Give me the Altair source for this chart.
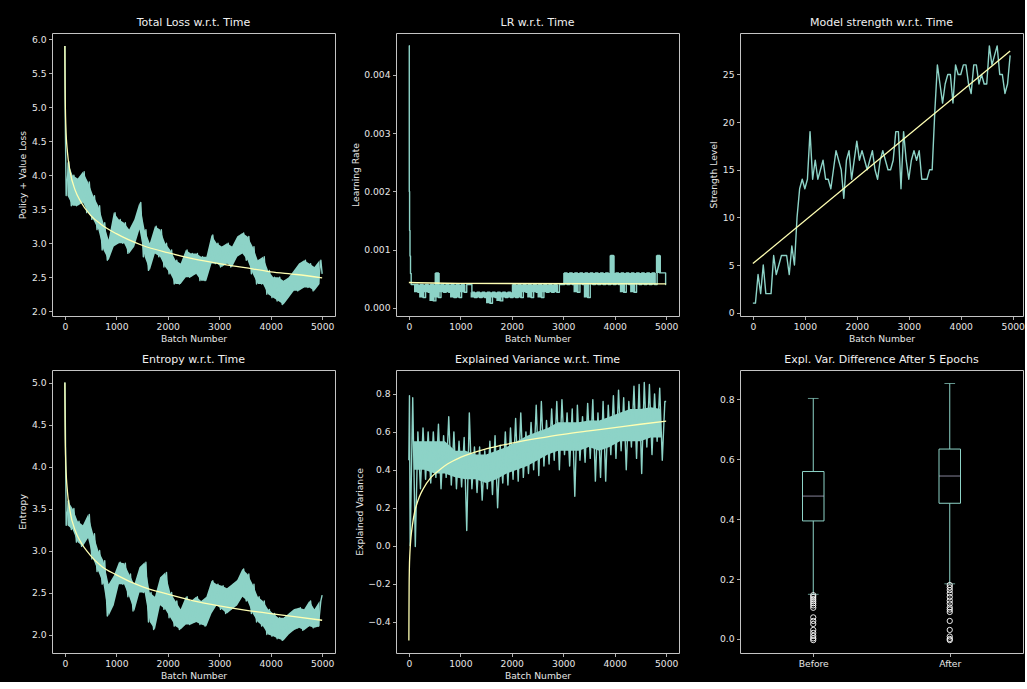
import altair as alt
import pandas as pd

TEAL = "#8dd3c7"
YELLOW = "#ffffb3"
LAVENDER = "#bebada"
FONT = "DejaVu Sans"

BATCH_TICKS = [0, 1000, 2000, 3000, 4000, 5000]

# ---------------- Total loss ----------------
loss_start_x = [0, 8]
loss_start = [5.9, 4.8]
loss_lo = [3.7, 3.55, 3.55, 3.6, 3.45, 3.35, 3.2, 2.9, 2.75, 2.95,
           3.0, 3.0, 2.85, 2.95, 3.2, 2.8, 2.6, 2.85, 2.8, 2.65,
           2.55, 2.4, 2.4, 2.5, 2.5, 2.55, 2.45, 2.45, 2.7, 2.7,
           2.65, 2.7, 2.65, 2.8, 2.85, 2.75, 2.55, 2.4, 2.4, 2.25,
           2.2, 2.15, 2.1, 2.2, 2.3, 2.3, 2.35, 2.35, 2.3, 2.4]
loss_hi = [4.2, 4.0, 3.95, 4.05, 3.9, 3.7, 3.55, 3.3, 3.05, 3.45,
           3.35, 3.3, 3.2, 3.35, 3.6, 3.2, 3.0, 3.25, 3.2, 3.0,
           2.9, 2.75, 2.7, 2.9, 2.85, 2.85, 2.8, 2.8, 3.12, 3.0,
           2.95, 3.0, 2.95, 3.1, 3.15, 3.1, 2.95, 2.75, 2.8, 2.6,
           2.5, 2.5, 2.45, 2.5, 2.6, 2.7, 2.75, 2.7, 2.65, 2.75]
loss_end = 2.55
loss_fit_x = [1, 2, 5, 10, 20, 50, 100, 200, 300, 500, 700, 1000, 1500,
              2000, 2500, 3000, 3500, 4000, 4500, 5000]
loss_fit = [5.9, 5.62, 5.26, 4.98, 4.70, 4.34, 4.06, 3.78, 3.62, 3.41, 3.28,
            3.14, 2.97, 2.86, 2.77, 2.70, 2.64, 2.58, 2.54, 2.49]

# ---------------- Learning rate ----------------
lr_start_x = [0, 8, 14, 22, 32, 45, 60]
lr_start = [0.0045, 0.002, 0.00133, 0.00089, 0.00059, 0.0004, 0.0004]
lr_hi = [0.0004, 0.0004, 0.0004, 0.0004, 0.0006, 0.0004, 0.0004, 0.0004, 0.0004, 0.0004,
         0.0004, 0.000267, 0.000267, 0.000267, 0.000267, 0.000267, 0.000267, 0.000267, 0.000267, 0.0004,
         0.0004, 0.0004, 0.0004, 0.0004, 0.0004, 0.0004, 0.0004, 0.0004, 0.0004, 0.0006,
         0.0006, 0.0006, 0.0006, 0.0006, 0.0006, 0.0006, 0.0006, 0.0006, 0.0009, 0.0006,
         0.0006, 0.0006, 0.0006, 0.0006, 0.0006, 0.0006, 0.0006, 0.0009, 0.0006]
lr_lo = [0.000267, 0.000178, 0.000267, 0.000119, 0.000178, 0.000267, 0.000267, 0.000178, 0.000178, 0.000267,
         0.0004, 0.000178, 0.000178, 0.000178, 0.000079, 0.000178, 0.000119, 0.000178, 0.000178, 0.000178,
         0.000178, 0.000267, 0.000178, 0.000267, 0.000178, 0.000267, 0.000267, 0.000267, 0.0004, 0.0004,
         0.0004, 0.000267, 0.0004, 0.000178, 0.0004, 0.0004, 0.0004, 0.0004, 0.0004, 0.0004,
         0.000267, 0.0004, 0.000267, 0.0004, 0.0004, 0.0004, 0.0004, 0.0006, 0.0006]
lr_end_x = [4990, 5000]
lr_end = [0.0004, 0.0004]
lr_fit_x = [0, 1000, 5000]
lr_fit = [0.000435, 0.00042, 0.000412]

# ---------------- Model strength ----------------
strength = [1, 1, 4, 2, 5, 2, 2, 2, 6, 4, 5, 6, 6, 6, 4, 7, 5,
            10, 13, 14, 13, 14, 19, 14, 16, 14, 15, 16, 14, 14, 13,
            15, 17, 16, 15, 12, 16, 17, 14, 16, 18, 16, 17, 16, 15, 16, 17, 15, 14, 16, 17, 16, 15, 15, 16,
            19, 19, 13, 19, 16, 14, 16, 17, 16, 17, 14, 14, 14, 15, 15,
            21,
            26, 24, 22, 24, 25, 25, 22, 26, 25, 25, 26, 26, 24, 23, 26, 26, 24, 25, 24, 24,
            28, 26, 27, 28, 25, 25, 23, 24, 27]
strength_x = list(range(0, 50 * len(strength), 50))
strength_fit_x = [0, 4950]
strength_fit = [5.15, 27.45]

# ---------------- Entropy ----------------
ent_start_x = [0, 8]
ent_start = [5.0, 4.6]
ent_lo = [3.3, 3.25, 3.1, 3.05, 3.15, 2.9, 2.75, 2.6, 2.22, 2.35,
          2.6, 2.6, 2.45, 2.28, 2.5, 2.5, 2.15, 2.06, 2.35, 2.3,
          2.2, 2.1, 2.06, 2.12, 2.12, 2.15, 2.12, 2.1, 2.25, 2.35,
          2.3, 2.25, 2.3, 2.35, 2.45, 2.4, 2.25, 2.15, 2.1, 2.0,
          1.98, 1.95, 1.93, 2.0, 2.05, 2.08, 2.05, 2.1, 2.08, 2.1]
ent_hi = [3.6, 3.5, 3.35, 3.3, 3.43, 3.2, 3.0, 2.88, 2.6, 2.7,
          2.86, 2.85, 2.72, 2.6, 2.8, 2.86, 2.5, 2.45, 2.68, 2.74,
          2.5, 2.4, 2.3, 2.45, 2.4, 2.45, 2.4, 2.45, 2.64, 2.6,
          2.58, 2.55, 2.6, 2.65, 2.78, 2.72, 2.6, 2.45, 2.4, 2.3,
          2.25, 2.2, 2.2, 2.25, 2.3, 2.32, 2.3, 2.4, 2.3, 2.4]
ent_end = 2.47
ent_fit_x = [1, 2, 5, 10, 20, 50, 100, 200, 300, 500, 700, 1000, 1500,
             2000, 2500, 3000, 3500, 4000, 4500, 5000]
ent_fit = [5.0, 4.77, 4.47, 4.24, 4.01, 3.70, 3.47, 3.24, 3.11, 2.94, 2.82,
           2.71, 2.57, 2.48, 2.40, 2.34, 2.29, 2.25, 2.21, 2.17]

# ---------------- Explained variance ----------------
ev_start_x = [0, 12]
ev_start = [0.45, 0.79]
ev_lo = [0.0, -0.005, 0.3, 0.35, 0.33, 0.36, 0.3, 0.36, 0.32, 0.3,
         0.31, 0.08, 0.3, 0.28, 0.24, 0.3, 0.27, 0.2, 0.33, 0.32,
         0.35, 0.34, 0.36, 0.38, 0.4, 0.37, 0.42, 0.43, 0.45, 0.4,
         0.48, 0.42, 0.26, 0.45, 0.44, 0.46, 0.34, 0.36, 0.34, 0.48,
         0.46, 0.5, 0.4, 0.52, 0.46, 0.38, 0.52, 0.48, 0.55, 0.45]
ev_hi = [0.78, 0.6, 0.62, 0.6, 0.6, 0.64, 0.58, 0.68, 0.6, 0.55,
         0.57, 0.7, 0.52, 0.52, 0.5, 0.55, 0.58, 0.53, 0.6, 0.62,
         0.67, 0.7, 0.6, 0.65, 0.74, 0.76, 0.66, 0.72, 0.76, 0.77,
         0.7, 0.72, 0.74, 0.68, 0.75, 0.77, 0.7, 0.76, 0.74, 0.79,
         0.82, 0.78, 0.76, 0.84, 0.85, 0.86, 0.85, 0.8, 0.83, 0.76]
ev_end = 0.76
# dense core of the explained-variance trace, every 200 batches
ev_core_x = [100, 300, 500, 700, 900, 1100, 1300, 1500, 1700, 1900, 2100, 2300, 2500,
             2700, 2900, 3100, 3300, 3500, 3700, 3900, 4100, 4300, 4500, 4700, 4900]
ev_core_lo = [0.40, 0.40, 0.38, 0.38, 0.36, 0.35, 0.35, 0.33, 0.35, 0.38, 0.40, 0.42, 0.45,
              0.48, 0.50, 0.50, 0.50, 0.52, 0.50, 0.52, 0.55, 0.55, 0.55, 0.57, 0.57]
ev_core_hi = [0.55, 0.55, 0.55, 0.55, 0.50, 0.50, 0.48, 0.48, 0.50, 0.52, 0.55, 0.58, 0.60,
              0.62, 0.65, 0.65, 0.65, 0.66, 0.66, 0.68, 0.70, 0.72, 0.72, 0.73, 0.72]
ev_fit_x = [0, 2, 5, 10, 20, 40, 70, 110, 150, 200, 280, 430, 600, 750, 1000,
            1500, 2000, 2500, 3000, 3500, 4000, 4500, 5000]
ev_fit = [-0.5, -0.36, -0.22, -0.12, -0.04, 0.04, 0.11, 0.175, 0.215, 0.255, 0.30,
          0.36, 0.40, 0.43, 0.465, 0.51, 0.54, 0.565, 0.587, 0.605, 0.622, 0.64, 0.656]

# ---------------- Box plot ----------------
box_labels = ["Before", "After"]
box_pos = [1, 2]
box_wlo = [0.149, 0.184]
box_q1 = [0.394, 0.453]
box_med = [0.477, 0.544]
box_q3 = [0.559, 0.634]
box_whi = [0.803, 0.853]
fliers_before = [0.146, 0.14, 0.133, 0.126, 0.119, 0.112, 0.104, 0.072, 0.06,
                 0.05, 0.03, 0.02, 0.01, 0.002, -0.004]
fliers_after = [0.18, 0.172, 0.163, 0.152, 0.14, 0.128, 0.118, 0.105, 0.098,
                0.09, 0.06, 0.03, 0.008, 0.0, -0.004]

PANEL_W = 283
PANEL_H = 283


def zigzag(sx, sv, lo, hi, first, step, ex, ev):
    xs = list(sx)
    vs = list(sv)
    for i, (l, h) in enumerate(zip(lo, hi)):
        base = first + i * step
        xs += [base + step * 0.25, base + step * 0.75]
        vs += [l, h]
    xs += list(ex)
    vs += list(ev)
    return pd.DataFrame({"x": xs, "y": vs})


def band_frame(lo, hi, first, step, offset):
    xs = [first + i * step + offset for i in range(len(lo))]
    return pd.DataFrame({"x": xs, "lo": lo, "hi": hi})


def line_panel(title, ytitle, series, fit, ydom, yticks, yfmt,
               xdom=(-250, 5250), interp="linear", band=None, band_interp="linear"):
    xs = alt.Scale(domain=list(xdom), nice=False, zero=False)
    ys = alt.Scale(domain=list(ydom), nice=False, zero=False)
    xa = alt.Axis(title="Batch Number", values=BATCH_TICKS, format="d")
    ya = alt.Axis(title=ytitle, values=yticks, format=yfmt)
    x = alt.X("x:Q", scale=xs, axis=xa)
    y = alt.Y("y:Q", scale=ys, axis=ya)
    layers = []
    if band is not None:
        layers.append(alt.Chart(band).mark_area(color=TEAL, opacity=1, interpolate=band_interp).encode(
            x=x, y=alt.Y("lo:Q", scale=ys, axis=ya), y2="hi:Q"))
    layers.append(alt.Chart(series).mark_line(color=TEAL, strokeWidth=1.4, interpolate=interp,
                                              strokeJoin="round").encode(x=x, y=y))
    layers.append(alt.Chart(fit).mark_line(color=YELLOW, strokeWidth=1.3,
                                           interpolate="monotone").encode(x=x, y=y))
    return alt.layer(*layers).properties(title=title, width=PANEL_W, height=PANEL_H)


loss_df = zigzag(loss_start_x, loss_start, loss_lo, loss_hi, 0, 100, [5000], [loss_end])
loss_band = band_frame(loss_lo, loss_hi, 0, 100, 50)
loss_fit_df = pd.DataFrame({"x": loss_fit_x, "y": loss_fit})
p1 = line_panel("Total Loss w.r.t. Time", "Policy + Value Loss", loss_df, loss_fit_df,
                (1.93, 6.09), [2.0, 2.5, 3.0, 3.5, 4.0, 4.5, 5.0, 5.5, 6.0], ".1f",
                band=loss_band)

lr_df = zigzag(lr_start_x, lr_start, lr_hi, lr_lo, 100, 100, lr_end_x, lr_end)
lr_band = band_frame(lr_lo, lr_hi, 100, 100, 0)
lr_fit_df = pd.DataFrame({"x": lr_fit_x, "y": lr_fit})
p2 = line_panel("LR w.r.t. Time", "Learning Rate", lr_df, lr_fit_df,
                (-0.00014, 0.00472), [0.0, 0.001, 0.002, 0.003, 0.004], ".3f",
                interp="step-after", band=lr_band, band_interp="step-after")

st_df = pd.DataFrame({"x": strength_x, "y": strength})
st_fit_df = pd.DataFrame({"x": strength_fit_x, "y": strength_fit})
p3 = line_panel("Model strength w.r.t. Time", "Strength Level", st_df, st_fit_df,
                (-0.35, 29.35), [0, 5, 10, 15, 20, 25], "d", xdom=(-247.5, 5197.5))

ent_df = zigzag(ent_start_x, ent_start, ent_lo, ent_hi, 0, 100, [5000], [ent_end])
ent_band = band_frame(ent_lo, ent_hi, 0, 100, 50)
ent_fit_df = pd.DataFrame({"x": ent_fit_x, "y": ent_fit})
p4 = line_panel("Entropy w.r.t. Time", "Entropy", ent_df, ent_fit_df,
                (1.78, 5.15), [2.0, 2.5, 3.0, 3.5, 4.0, 4.5, 5.0], ".1f",
                band=ent_band)

ev_df = zigzag(ev_start_x, ev_start, ev_lo, ev_hi, 0, 100, [5000], [ev_end])
ev_band = pd.DataFrame({"x": ev_core_x, "lo": ev_core_lo, "hi": ev_core_hi})
ev_fit_df = pd.DataFrame({"x": ev_fit_x, "y": ev_fit})
p5 = line_panel("Explained Variance w.r.t. Time", "Explained Variance", ev_df, ev_fit_df,
                (-0.566, 0.926), [-0.4, -0.2, 0.0, 0.2, 0.4, 0.6, 0.8], ".1f",
                band=ev_band)

# box plot panel
box_df = pd.DataFrame({"pos": box_pos, "wlo": box_wlo, "q1": box_q1, "med": box_med,
                       "q3": box_q3, "whi": box_whi})
fl_df = pd.DataFrame({
    "pos": [box_pos[0]] * len(fliers_before) + [box_pos[1]] * len(fliers_after),
    "val": fliers_before + fliers_after,
})
label_expr = "[" + ",".join("'" + s + "'" for s in box_labels) + "][datum.value - 1]"
bx = alt.X("pos:Q", scale=alt.Scale(domain=[0.5, 2.5], nice=False, zero=False),
           axis=alt.Axis(title="", values=box_pos, labelExpr=label_expr))
yscale = alt.Scale(domain=[-0.047, 0.898], nice=False, zero=False)
yaxis = alt.Axis(title="", values=[0.0, 0.2, 0.4, 0.6, 0.8], format=".1f")


def by(field):
    return alt.Y(field + ":Q", scale=yscale, axis=yaxis)


bbase = alt.Chart(box_df)
w_low = bbase.mark_rule(color=TEAL, strokeWidth=1).encode(x=bx, y=by("wlo"), y2="q1:Q")
w_high = bbase.mark_rule(color=TEAL, strokeWidth=1).encode(x=bx, y=by("q3"), y2="whi:Q")
box = bbase.mark_bar(size=21.5, fillOpacity=0, stroke=TEAL, strokeWidth=1,
                     orient="vertical").encode(x=bx, y=by("q1"), y2="q3:Q")
med = bbase.mark_tick(orient="horizontal", size=21.5, thickness=1,
                      color=LAVENDER).encode(x=bx, y=by("med"))
cap_lo = bbase.mark_tick(orient="horizontal", size=10.7, thickness=1,
                         color=TEAL).encode(x=bx, y=by("wlo"))
cap_hi = bbase.mark_tick(orient="horizontal", size=10.7, thickness=1,
                         color=TEAL).encode(x=bx, y=by("whi"))
fl = alt.Chart(fl_df).mark_point(shape="circle", filled=False, stroke="white",
                                 strokeWidth=0.9, size=28, opacity=1).encode(
    x=bx, y=alt.Y("val:Q", scale=yscale, axis=yaxis))
p6 = alt.layer(w_low, w_high, box, med, cap_lo, cap_hi, fl).properties(
    title="Expl. Var. Difference After 5 Epochs", width=PANEL_W, height=PANEL_H)

chart = alt.concat(
    p1, p2, p3, p4, p5, p6, columns=3,
    spacing={"row": 54, "column": 61}, bounds="flush",
).properties(
    padding={"left": 18, "top": 16, "right": 0, "bottom": 0},
    background="black",
).configure_view(
    stroke="#c4c4c4", strokeWidth=1,
).configure_axis(
    labelFont=FONT, labelFontSize=9.2, labelColor="#e6e6e6",
    titleFont=FONT, titleFontSize=9.2, titleFontWeight="normal", titleColor="#e6e6e6",
    tickColor="#c4c4c4", tickSize=3.5, tickWidth=0.9,
    domain=False, grid=False, labelPadding=2.5, titlePadding=3.5,
    labelFlush=False, labelOverlap=False,
).configure_title(
    font=FONT, fontSize=11, fontWeight="normal", color="#f0f0f0", offset=5, anchor="middle",
)

chart.save("out.html", embed_options={"renderer": "svg", "actions": False})
